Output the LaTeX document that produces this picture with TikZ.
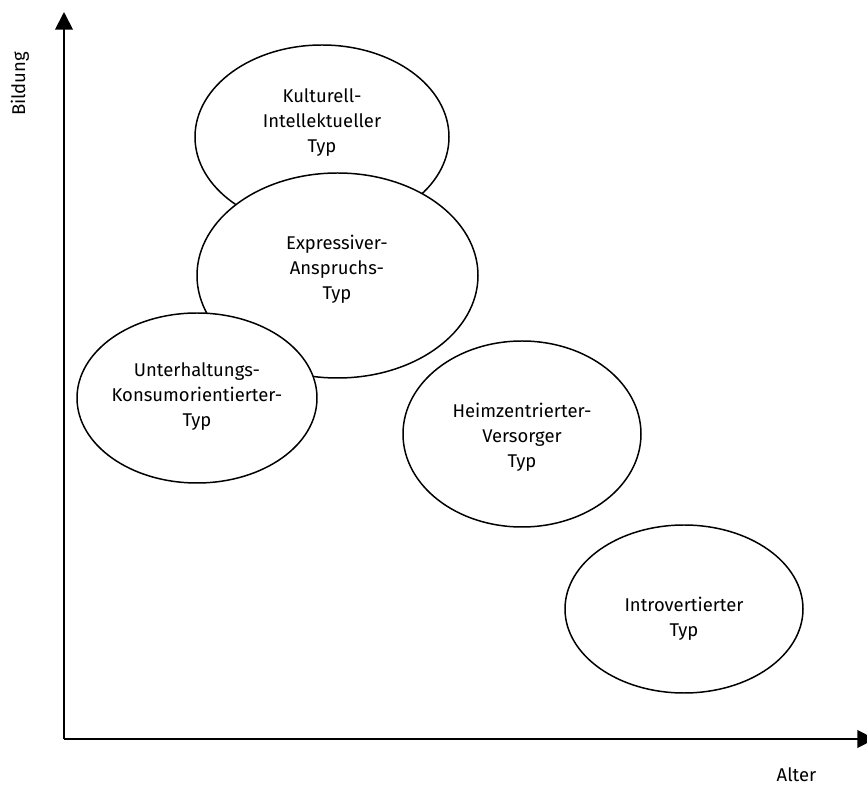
\documentclass[tikz,border=0pt]{standalone}
\usepackage{fontspec}
\setmainfont{Fira Sans}
\usetikzlibrary{%
	arrows.meta,%
	shapes.geometric
}
\tikzset{
	typ/.style={draw, ellipse, fill=white, line width=0.85pt, inner sep=0pt},
	typtext/.style={align=center, font=\fontsize{10.5}{14.2}\selectfont},
	achse/.style={line width=1.1pt, -{Triangle[length=10pt, width=10pt]}}
}

\begin{document}
\begin{tikzpicture}
			\useasboundingbox (0,0) rectangle (17.34,-15.74);
			
			% Axes
			\coordinate (O) at (1.28,-14.78);
			\coordinate (ytop) at (1.28,-0.24);
			\coordinate (xend) at (17.5,-14.78);
			\draw[achse] (O) -- (ytop);
			\draw[achse] (O) -- (xend);
			\node[typtext, rotate=90] (bildung) at (0.40,-1.68) {Bildung};
			\node[typtext] (alter) at (15.93,-15.50) {Alter};
			
			% Ellipses, drawn back to front
			\node[typ, minimum width=5.08cm, minimum height=3.68cm] (kultur) at (6.44,-2.74) {};
			\node[typtext] (kulturTxt) at (6.44,-2.46) {Kulturell-\\Intellektueller\\Typ};
			
			\node[typ, minimum width=5.62cm, minimum height=4.10cm] (expr) at (6.75,-5.51) {};
			\node[typtext] (exprTxt) at (6.74,-5.38) {Expressiver-\\Anspruchs-\\Typ};
			
			\node[typ, minimum width=4.80cm, minimum height=3.40cm] (unter) at (3.94,-7.96) {};
			\node[typtext] (unterTxt) at (3.94,-7.94) {Unterhaltungs-\\Konsumorientierter-\\Typ};
			
			\node[typ, minimum width=4.76cm, minimum height=3.72cm] (heim) at (10.44,-8.68) {};
			\node[typtext] (heimTxt) at (10.44,-8.74) {Heimzentrierter-\\Versorger\\Typ};
			
			\node[typ, minimum width=4.76cm, minimum height=3.36cm] (intro) at (13.68,-12.18) {};
			\node[typtext] (introTxt) at (13.68,-12.38) {Introvertierter\\Typ};
		\end{tikzpicture}
\end{document}
